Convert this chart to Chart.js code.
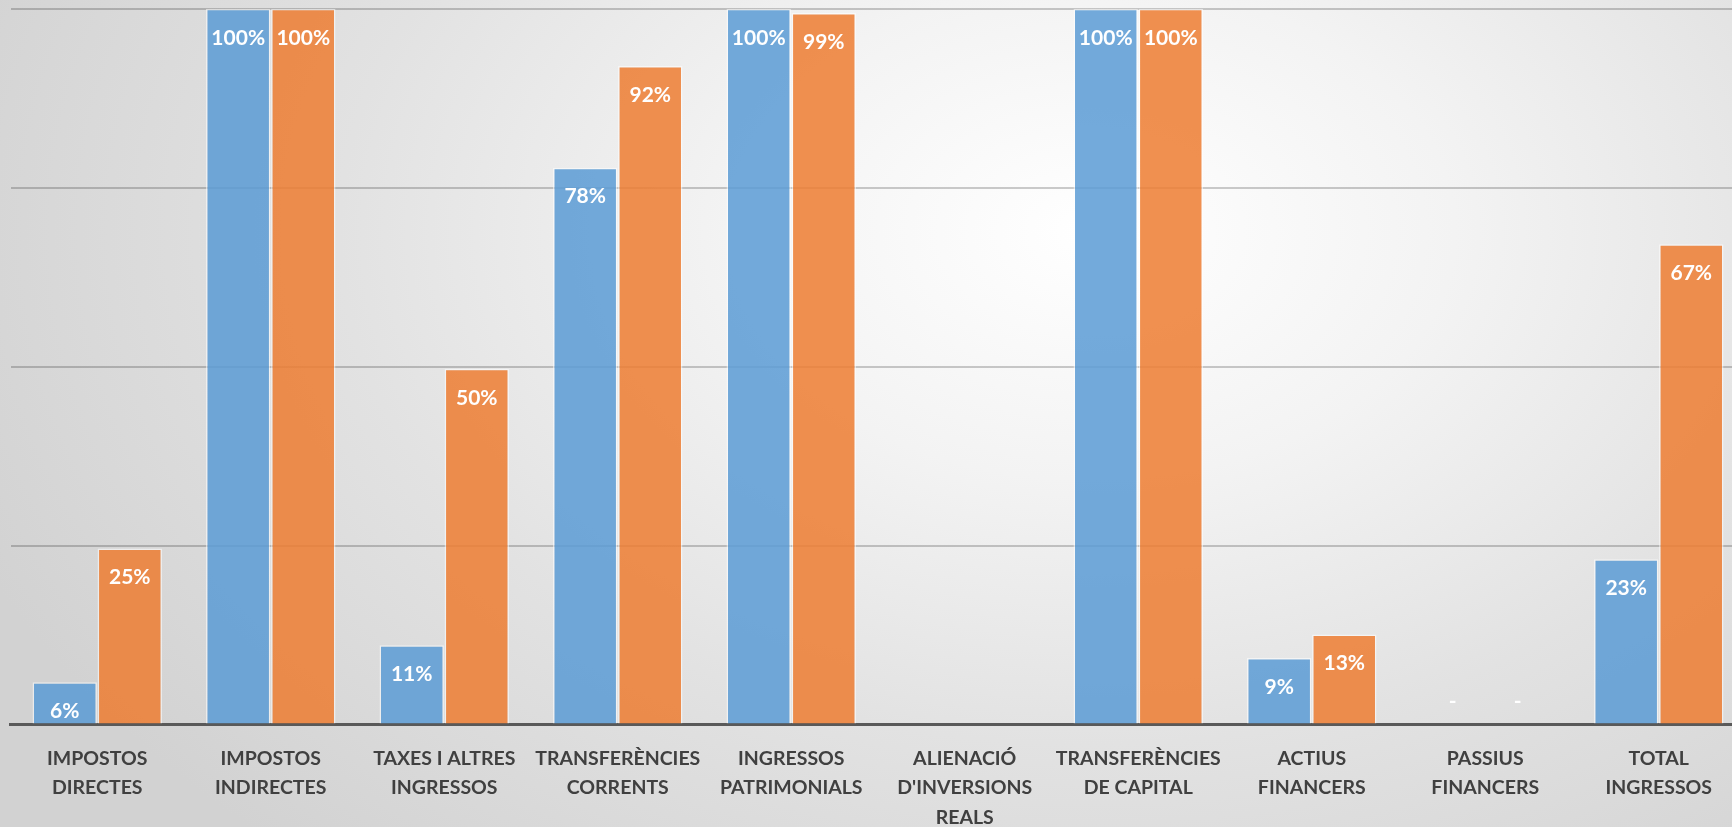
<!DOCTYPE html>
<html>
<head>
<meta charset="utf-8">
<script src="https://cdn.jsdelivr.net/npm/chart.js@4.4.1/dist/chart.umd.min.js"></script>
<style>
  html, body { margin: 0; padding: 0; overflow: hidden; }
  body {
    width: 1732px; height: 827px;
    background: radial-gradient(ellipse 70% 100% at 63% 28%, #ffffff 0%, #f3f3f3 30%, #e2e2e2 62%, #d2d2d2 100%);
  }
  #wrap { position: absolute; left: 0; top: 0; width: 1760px; height: 827px; }
</style>
</head>
<body>
<div id="wrap"><canvas id="chart"></canvas></div>
<script>
// categories and values (percent executed)
const categories = [
    ['IMPOSTOS', 'DIRECTES'],
    ['IMPOSTOS', 'INDIRECTES'],
    ['TAXES I ALTRES', 'INGRESSOS'],
    ['TRANSFERÈNCIES', 'CORRENTS'],
    ['INGRESSOS', 'PATRIMONIALS'],
    ['ALIENACIÓ', "D'INVERSIONS", 'REALS'],
    ['TRANSFERÈNCIES', 'DE CAPITAL'],
    ['ACTIUS', 'FINANCERS'],
    ['PASSIUS', 'FINANCERS'],
    ['TOTAL', 'INGRESSOS']
];
const seriesBlue = [5.9, 100, 11.1, 77.8, 100, null, 100, 9.3, 0, 23.1];
const seriesOrange = [24.6, 100, 49.7, 92.0, 99.4, null, 100, 12.6, 0, 67.1];
const yTicks = [0, 25, 50, 75, 100];

// white labels inside the top of each bar
const barLabels = {
    id: 'barLabels',
    afterDatasetsDraw(chart) {
        const ctx = chart.ctx;
        const base = chart.scales.y.getPixelForValue(0);
        ctx.save();
        ctx.fillStyle = '#ffffff';
        ctx.font = 'bold 21px Lato';
        ctx.textAlign = 'center';
        ctx.textBaseline = 'middle';
        chart.data.datasets.forEach((ds, i) => {
            chart.getDatasetMeta(i).data.forEach((bar, j) => {
                const v = ds.data[j];
                if (v === null || v === undefined) return;
                if (v === 0) {
                    ctx.fillText('-', bar.x, base - 23);
                } else {
                    ctx.fillText(Math.round(v) + '%', bar.x, bar.y + 29);
                }
            });
        });
        ctx.restore();
    }
};

new Chart(document.getElementById('chart'), {
    type: 'bar',
    data: {
        labels: categories,
        datasets: [{
            data: seriesBlue,
            backgroundColor: 'rgba(91,155,213,0.85)',
            borderColor: 'rgba(255,255,255,0.55)',
            borderWidth: 1.5,
            categoryPercentage: 0.75,
            barPercentage: 0.99
        }, {
            data: seriesOrange,
            backgroundColor: 'rgba(237,125,49,0.85)',
            borderColor: 'rgba(255,255,255,0.55)',
            borderWidth: 1.5,
            categoryPercentage: 0.75,
            barPercentage: 0.99
        }]
    },
    options: {
        responsive: true,
        maintainAspectRatio: false,
        animation: false,
        layout: { padding: { left: 10.5, right: 14.5, top: 8.8, bottom: 0 } },
        plugins: {
            legend: { display: false },
            tooltip: { enabled: false }
        },
        scales: {
            x: {
                grid: { display: false },
                border: { color: '#595959', width: 3 },
                ticks: {
                    color: '#404040',
                    font: { family: 'Lato', size: 19.5, weight: 'bold', lineHeight: '29.5px' },
                    padding: 11,
                    maxRotation: 0,
                    autoSkip: false
                },
                afterFit(scale) { scale.height = 102.4; }
            },
            y: {
                min: 0,
                max: 100,
                afterBuildTicks(scale) { scale.ticks = yTicks.map(v => ({ value: v })); },
                ticks: { display: false },
                border: { display: false },
                grid: { color: 'rgba(0,0,0,0.2)', lineWidth: 2, drawTicks: false },
                afterFit(scale) { scale.width = 0; }
            }
        }
    },
    plugins: [barLabels]
});
</script>
</body>
</html>
